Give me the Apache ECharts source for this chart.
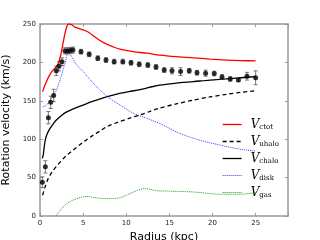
<!DOCTYPE html>
<html><head><meta charset="utf-8">
<script src="https://cdn.jsdelivr.net/npm/echarts@6/dist/echarts.min.js"></script>
<style>html,body{margin:0;padding:0;background:#fff}#c{width:320px;height:240px}</style>
</head><body><div id="c"></div>
<script>
// Observed rotation curve
const obsR = [0.27,0.62,0.97,1.24,1.58,1.89,2.2,2.55,2.9,3.2,3.5,3.82,4.75,5.7,6.7,7.65,8.6,9.6,10.55,11.5,12.5,13.45,14.4,15.3,16.3,17.3,18.2,19.2,20.2,21.1,22.05,23.0,24.0,25.0];
const obsV = [44,64,128,148,157,189,195,201,215,215,215.5,216,214,210.5,205.5,203,201,201,199.5,197.5,196.5,194,190,189,188,189,186.5,186,185.5,181,178.5,177,182,180];
const obsE = [7,8,8,8,8,6,6,5,4,4,4,4,3,3,3,3,3,3,3,3,3,3,3,4,5,3,3,4,3,3,3,2,5,9];
// Model curves [radius, velocity]
const vctot = [[0.31,162],[0.58,170.5],[0.97,180.5],[1.36,188],[1.74,192.5],[2.13,199],[2.4,209.5],[2.63,222.5],[2.9,238],[3.09,246],[3.28,250],[3.67,249],[4.06,246],[4.63,243.7],[5.2,241.5],[5.8,238],[6.37,233],[6.95,228.5],[7.73,223.8],[8.5,220.2],[9.27,217.2],[10.8,214.1],[12.4,212],[13.9,209.5],[15.8,207.5],[17.8,206],[19.7,204.3],[21.6,203],[23.3,202.3],[25,202]];
const vuhalo = [[0.3,27],[0.6,38],[0.96,49],[1.5,59],[2,66],[3,78],[3.86,86],[5,96],[6,104],[7,111],[7.7,116],[9,122],[10.3,127],[11.6,131.5],[12.7,136],[13.7,140],[15.8,146],[17.8,151],[19.7,155],[21.6,158.5],[23.3,161],[25,163]];
const vchalo = [[0.27,75],[0.38,80],[0.58,97],[0.8,106],[1.16,114],[1.54,120],[1.9,125],[2.5,131],[3.1,135.5],[3.86,139.5],[5,144.5],[6,149],[7,152.5],[7.7,155],[9,159],[10.3,162],[11.6,164.5],[12.7,167.5],[13.9,170.5],[15.8,173],[17.8,175],[19.7,177],[21.6,178.5],[23.3,180],[25,181.5]];
const vdisk = [[0.31,142],[0.78,144.5],[1.16,151],[1.74,160],[2.32,177],[2.9,199],[3.28,212],[3.67,207.6],[4.25,196.7],[5.02,188],[6,175],[6.95,164],[8.1,153],[9.27,144.5],[10.8,134],[12.4,127],[13.9,120.5],[16.2,107.6],[18.5,98.8],[20.9,92.3],[23.2,87],[25,84.5]];
const vgas = [[1.85,0],[2.3,7],[3.1,16],[4,21.5],[5,25],[5.6,25.5],[6.2,24],[7,23],[8,22.7],[8.9,23],[9.5,24.5],[10,27],[11,32],[12,35.5],[12.7,35],[13.5,33],[14.5,32.5],[16,32],[17.8,31.3],[19.5,29.5],[20.9,28.3],[23.2,28.3],[24.7,30],[25,30.5]];
const xTicks = [0,5,10,15,20,25];
const yTicks = [0,50,100,150,200,250];
const legendSubs = {Vctot:'ctot', Vuhalo:'uhalo', Vchalo:'chalo', Vdisk:'disk', Vgas:'gas'};

const chart = echarts.init(document.getElementById('c'));
const obs = obsR.map((r,i)=>[r,obsV[i]]);
const errs = obsR.map((r,i)=>[r,obsV[i]-obsE[i],obsV[i]+obsE[i]]);
const XMAX = 28.75, YMAX = 250;
const spine = ()=>({show:true, onZero:false, lineStyle:{color:'#999', width:1.5}});
const tick = ()=>({show:true, inside:true, length:3, lineStyle:{color:'#999', width:1}});
const lab = (ticks)=>({fontSize:7, color:'#222', fontFamily:'DejaVu Sans', margin:4, formatter:v=>ticks.indexOf(v)>=0?String(v):''});
const hidLab = ()=>({show:true, fontSize:7, margin:2, color:'rgba(0,0,0,0)', formatter:()=>'.'});
const colors = {Vctot:'#f00', Vuhalo:'#000', Vchalo:'#000', Vdisk:'#3344ff', Vgas:'#229922'};
const ltypes = {Vctot:'solid', Vuhalo:[4,3], Vchalo:'solid', Vdisk:[1,1], Vgas:[1,1]};
const lwidths = {Vctot:1.3, Vuhalo:1.3, Vchalo:1.3, Vdisk:1, Vgas:1};
chart.setOption({
  animation:false,
  grid:{left:40, right:32, top:24, bottom:24, outerBoundsContain:'axisLabel'},
  xAxis:[{type:'value', min:0, max:XMAX, interval:5, axisLine:spine(), axisTick:tick(), splitLine:{show:false},
    axisLabel:lab(xTicks),
    name:'Radius (kpc)', nameLocation:'middle', nameGap:9,
    nameTextStyle:{fontSize:11, fontFamily:'DejaVu Sans', color:'#000', verticalAlign:'top'}},
   {type:'value', position:'top', min:0, max:XMAX, interval:5, axisLine:spine(), axisTick:tick(), axisLabel:hidLab(), splitLine:{show:false}}],
  yAxis:[{type:'value', min:0, max:YMAX, interval:50, axisLine:spine(), axisTick:tick(), splitLine:{show:false},
    axisLabel:lab(yTicks),
    name:'Rotation velocity (km/s)', nameLocation:'middle', nameGap:14,
    nameTextStyle:{fontSize:11, fontFamily:'DejaVu Sans', color:'#000', verticalAlign:'bottom'}},
   {type:'value', position:'right', min:0, max:YMAX, interval:50, axisLine:spine(), axisTick:tick(), axisLabel:hidLab(), splitLine:{show:false}}],
  legend:{orient:'vertical', left:217, top:113, itemWidth:19, itemHeight:12, itemGap:4,
    data:Object.keys(legendSubs).map(n=>({name:n, itemStyle:{opacity:0},
      lineStyle:{color:colors[n], type:ltypes[n], width:lwidths[n], opacity:1}})),
    formatter:n=>'{v|V}{s|'+legendSubs[n]+'}',
    textStyle:{padding:[0,0,0,4], rich:{
      v:{fontFamily:'DejaVu Serif', fontStyle:'italic', fontSize:12, color:'#000', lineHeight:14},
      s:{fontFamily:'DejaVu Serif', fontSize:7, color:'#000', padding:[6,0,0,0], lineHeight:14}}}},
  series:[
    {name:'Vctot', type:'line', data:vctot, symbol:'none', smooth:0.3, lineStyle:{color:colors.Vctot, width:1.3}, itemStyle:{color:colors.Vctot}, z:3},
    {name:'Vuhalo', type:'line', data:vuhalo, symbol:'none', smooth:0.3, lineStyle:{color:colors.Vuhalo, width:1.3, type:ltypes.Vuhalo}, itemStyle:{color:colors.Vuhalo}, z:3},
    {name:'Vchalo', type:'line', data:vchalo, symbol:'none', smooth:0.3, lineStyle:{color:colors.Vchalo, width:1.3}, itemStyle:{color:colors.Vchalo}, z:3},
    {name:'Vdisk', type:'line', data:vdisk, symbol:'none', smooth:0.3, lineStyle:{color:colors.Vdisk, width:1, type:ltypes.Vdisk}, itemStyle:{color:colors.Vdisk}, z:3},
    {name:'Vgas', type:'line', data:vgas, symbol:'none', smooth:0.3, lineStyle:{color:colors.Vgas, width:1, type:ltypes.Vgas}, itemStyle:{color:colors.Vgas}, z:3},
    {name:'err', type:'custom', data:errs, z:4, renderItem:(p,api)=>{
      const lo=api.coord([api.value(0),api.value(1)]), hi=api.coord([api.value(0),api.value(2)]);
      const st={stroke:'#555', lineWidth:0.8};
      return {type:'group', children:[
        {type:'line', shape:{x1:lo[0],y1:lo[1],x2:hi[0],y2:hi[1]}, style:st},
        {type:'line', shape:{x1:lo[0]-2,y1:lo[1],x2:lo[0]+2,y2:lo[1]}, style:st},
        {type:'line', shape:{x1:hi[0]-2,y1:hi[1],x2:hi[0]+2,y2:hi[1]}, style:st}]};
    }},
    {name:'obs', type:'scatter', data:obs, symbol:'circle', symbolSize:5, itemStyle:{color:'#000'}, z:5}
  ]
});
</script></body></html>
